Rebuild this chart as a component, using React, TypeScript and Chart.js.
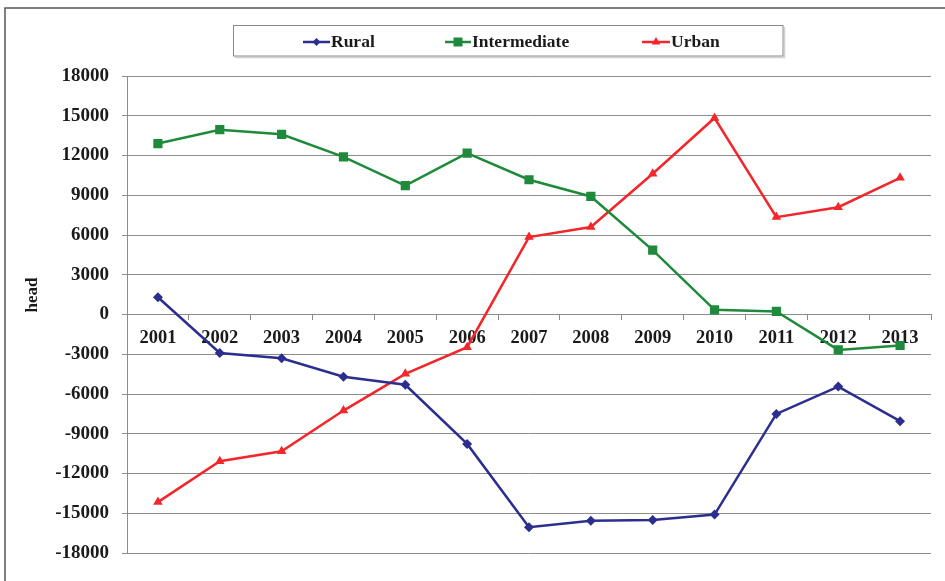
import React, { useEffect, useRef } from 'react';
import { Chart, registerables } from 'chart.js';

Chart.register(...registerables);

const years = ['2001', '2002', '2003', '2004', '2005', '2006', '2007', '2008', '2009', '2010', '2011', '2012', '2013'];
const rural = [1300, -2900, -3300, -4700, -5300, -9770, -16060, -15560, -15510, -15100, -7500, -5440, -8050];
const intermediate = [12900, 13950, 13600, 11900, 9720, 12180, 10170, 8910, 4860, 350, 230, -2670, -2340];
const urban = [-14160, -11070, -10320, -7250, -4480, -2470, 5840, 6600, 10620, 14830, 7350, 8100, 10320];
const seriesNames = ['Rural', 'Intermediate', 'Urban'];
const yMin = -18000;
const yMax = 18000;
const yStep = 3000;
const yTitle = 'head';

const colors = ['#2B2E8E', '#1F8A3B', '#F2262B'];
const pointStyles = ['rectRot', 'rect', 'triangle'];
const FONT = '"Liberation Serif", "Times New Roman", serif';

function drawMarker(ctx: CanvasRenderingContext2D, style: string, x: number, y: number, color: string) {
  ctx.save();
  ctx.fillStyle = color;
  ctx.beginPath();
  if (style === 'rectRot') {
    const r = 4;
    ctx.moveTo(x, y - r);
    ctx.lineTo(x + r, y);
    ctx.lineTo(x, y + r);
    ctx.lineTo(x - r, y);
  } else if (style === 'rect') {
    const s = 4.5;
    ctx.rect(x - s, y - s, 2 * s, 2 * s);
  } else {
    const r = 5;
    ctx.moveTo(x, y - r);
    ctx.lineTo(x + r * 0.87, y + r * 0.5);
    ctx.lineTo(x - r * 0.87, y + r * 0.5);
  }
  ctx.closePath();
  ctx.fill();
  ctx.restore();
}

const legendItems = [
  { x1: 303, x2: 330, tx: 331 },
  { x1: 445, x2: 471, tx: 472 },
  { x1: 642, x2: 670, tx: 671 },
];

const decor = {
  id: 'decor',
  beforeDraw(chart: any) {
    const ctx = chart.ctx as CanvasRenderingContext2D;
    ctx.save();
    ctx.fillStyle = '#ffffff';
    ctx.fillRect(0, 0, chart.width, chart.height);
    ctx.strokeStyle = '#555555';
    ctx.lineWidth = 1.5;
    ctx.beginPath();
    ctx.moveTo(5, chart.height + 2);
    ctx.lineTo(5, 8);
    ctx.lineTo(chart.width + 2, 8);
    ctx.stroke();
    ctx.restore();
  },
  afterDraw(chart: any) {
    const ctx = chart.ctx as CanvasRenderingContext2D;
    ctx.save();
    ctx.strokeStyle = '#d0d0d0';
    ctx.lineWidth = 1.5;
    ctx.beginPath();
    ctx.moveTo(235, 57.5);
    ctx.lineTo(784.5, 57.5);
    ctx.lineTo(784.5, 27);
    ctx.stroke();
    ctx.strokeStyle = '#8a8a8a';
    ctx.lineWidth = 1;
    ctx.strokeRect(233.5, 25.5, 549.5, 30.5);
    const ly = 42;
    chart.data.datasets.forEach((ds: any, i: number) => {
      const it = legendItems[i];
      ctx.strokeStyle = ds.borderColor;
      ctx.lineWidth = 2.5;
      ctx.beginPath();
      ctx.moveTo(it.x1, ly);
      ctx.lineTo(it.x2, ly);
      ctx.stroke();
      drawMarker(ctx, ds.pointStyle, (it.x1 + it.x2) / 2, ly, ds.borderColor);
      ctx.fillStyle = '#1a1a1a';
      ctx.font = `bold 17.5px ${FONT}`;
      ctx.textAlign = 'left';
      ctx.textBaseline = 'middle';
      ctx.fillText(ds.label, it.tx, ly);
    });
    ctx.translate(33, 295);
    ctx.rotate(-Math.PI / 2);
    ctx.fillStyle = '#1a1a1a';
    ctx.font = `bold 17px ${FONT}`;
    ctx.textAlign = 'center';
    ctx.textBaseline = 'middle';
    ctx.fillText(yTitle, 0, 0);
    ctx.restore();
  },
};

export default function App() {
  const ref = useRef<HTMLCanvasElement | null>(null);
  useEffect(() => {
    if (!ref.current) return;
    const series = [rural, intermediate, urban];
    const chart = new Chart(ref.current, {
      type: 'line',
      data: {
        labels: years,
        datasets: series.map((d, i) => ({
          label: seriesNames[i],
          data: d,
          borderColor: colors[i],
          backgroundColor: colors[i],
          borderWidth: 2.5,
          pointStyle: pointStyles[i] as any,
          pointRadius: i === 0 ? 5 : i === 1 ? 6.5 : 5.5,
          pointBorderWidth: 0,
          pointBackgroundColor: colors[i],
          pointBorderColor: colors[i],
          tension: 0,
          fill: false,
        })),
      },
      options: {
        animation: false,
        responsive: false,
        maintainAspectRatio: false,
        layout: { padding: { left: 0, right: 14, top: 76, bottom: 28 } },
        plugins: {
          legend: { display: false },
          tooltip: { enabled: false },
          title: { display: false },
        },
        scales: {
          x: {
            type: 'category',
            position: { y: 0 } as any,
            offset: true,
            afterFit: (s: any) => { s.height = 0; },
            grid: {
              display: true,
              offset: true,
              drawOnChartArea: false,
              drawTicks: true,
              tickLength: 5,
              color: '#8c8c8c',
              lineWidth: 1,
            },
            border: { display: true, color: '#8c8c8c', width: 1 },
            ticks: {
              color: '#1a1a1a',
              font: { family: FONT, size: 18.5, weight: 'bold' },
              padding: 8,
              maxRotation: 0,
              autoSkip: false,
            },
          },
          y: {
            type: 'linear',
            min: yMin,
            max: yMax,
            afterFit: (s: any) => { s.width = 127; },
            grid: {
              color: '#8c8c8c',
              lineWidth: 1,
              drawTicks: true,
              tickLength: 5,
            },
            border: { display: true, color: '#8c8c8c', width: 1 },
            ticks: {
              stepSize: yStep,
              autoSkip: false,
              color: '#1a1a1a',
              font: { family: FONT, size: 19, weight: 'bold' },
              padding: 13,
              callback: (v: any) => String(v),
            },
          },
        },
      },
      plugins: [decor],
    });
    return () => chart.destroy();
  }, []);
  return (
    <div style={{ position: 'fixed', left: 0, top: 0, width: 945, height: 581, background: '#fff' }}>
      <canvas ref={ref} width={945} height={581} style={{ width: 945, height: 581, display: 'block' }} />
    </div>
  );
}
